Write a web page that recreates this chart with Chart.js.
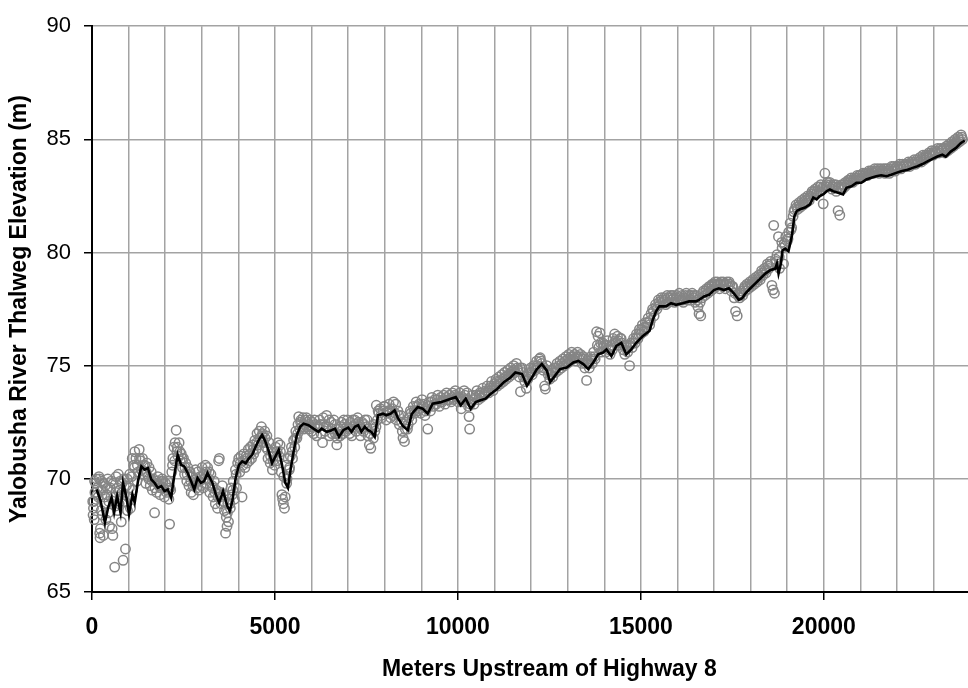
<!DOCTYPE html>
<html>
<head>
<meta charset="utf-8">
<script src="https://cdn.jsdelivr.net/npm/chart.js@4.4.1/dist/chart.umd.min.js"></script>
<style>
  html, body { margin: 0; padding: 0; background: #fff; }
</style>
</head>
<body>
<canvas id="chart" width="968" height="688"></canvas>
<script>
// Survey readings: [meters upstream of Highway 8, thalweg elevation (m)]
const surveyPoints = [
  [30, 68.4], [40, 68.7], [50, 69.0], [60, 68.2], [80, 69.4], [100, 69.8], [120, 70.0], [150, 69.6], [170, 69.2], [190, 70.1],
  [210, 67.6], [220, 67.4], [230, 67.8], [250, 68.6], [260, 69.9], [290, 69.5], [310, 67.5], [330, 68.9], [360, 69.7], [380, 68.2],
  [400, 69.3], [430, 70.0], [460, 69.0], [480, 67.9], [500, 69.6], [530, 69.9], [550, 67.8], [570, 67.5], [600, 69.2], [620, 66.1],
  [640, 68.8], [660, 70.1], [690, 69.6], [720, 70.2], [740, 68.9], [770, 69.9], [800, 68.1], [830, 69.4], [850, 66.4], [870, 70.0],
  [900, 69.0], [915, 66.9], [940, 69.7], [970, 68.6], [990, 69.2],
  [20, 69.0], [70, 69.9], [140, 69.3], [200, 70.0], [240, 69.5], [280, 68.4], [320, 69.8], [350, 69.2], [420, 69.6], [450, 68.5],
  [520, 69.2], [580, 69.8], [650, 69.4], [700, 68.6], [760, 69.5], [820, 69.8], [880, 69.3], [960, 70.0],
  [1020, 69.6], [1050, 68.7], [1080, 70.1], [1110, 69.5], [1140, 70.6], [1170, 71.2], [1200, 70.9], [1230, 69.9], [1260, 70.3], [1290, 71.3],
  [1320, 70.8], [1350, 70.4], [1380, 70.9], [1410, 70.2], [1440, 70.6], [1470, 69.8], [1500, 70.7], [1530, 70.1], [1560, 70.5], [1590, 69.7],
  [1620, 70.3], [1650, 69.5], [1680, 70.0], [1710, 68.5], [1740, 69.9], [1770, 69.4], [1800, 70.1], [1830, 69.7], [1860, 69.3], [1890, 69.9],
  [1920, 70.0], [1950, 69.6], [1980, 69.2], [2010, 69.8], [2040, 69.4],
  [1030, 70.2], [1100, 70.9], [1160, 70.5], [1240, 70.6], [1300, 70.9], [1400, 70.6], [1480, 70.3], [1550, 70.0], [1640, 69.9], [1720, 69.6],
  [1790, 69.8], [1870, 69.6], [1940, 69.9],
  [2070, 69.9], [2100, 69.1], [2120, 68.0], [2150, 69.5], [2180, 70.3], [2210, 70.9], [2240, 71.4], [2270, 71.6], [2300, 72.15], [2320, 71.2],
  [2350, 71.0], [2380, 71.6], [2410, 70.8], [2440, 71.1], [2470, 70.5], [2500, 70.9], [2530, 70.2], [2560, 70.7], [2590, 69.9], [2620, 70.5],
  [2650, 69.7], [2680, 70.3], [2710, 69.4], [2740, 70.1], [2770, 69.3], [2800, 69.8], [2830, 70.4], [2860, 69.6], [2890, 70.3], [2920, 69.5],
  [2950, 70.1], [2980, 69.7],
  [2060, 69.5], [2130, 69.6], [2200, 70.6], [2260, 70.8], [2330, 71.4], [2400, 71.2], [2460, 70.9], [2540, 70.5], [2600, 70.2], [2700, 69.9],
  [2760, 69.7], [2850, 70.0], [2940, 69.9],
  [3010, 70.5], [3040, 69.6], [3070, 70.2], [3100, 70.6], [3130, 69.8], [3160, 70.5], [3190, 70.0], [3220, 69.4], [3250, 70.2], [3280, 69.7],
  [3310, 69.2], [3340, 69.9], [3370, 68.9], [3400, 69.5], [3430, 68.7], [3460, 70.8], [3480, 70.9], [3500, 69.2], [3530, 68.9], [3560, 69.7],
  [3590, 69.3], [3620, 68.6], [3650, 67.6], [3670, 68.3], [3690, 67.9], [3710, 68.9], [3730, 68.1], [3750, 69.1], [3780, 68.7], [3800, 69.6],
  [3830, 69.3], [3860, 69.9], [3890, 69.1], [3920, 70.4], [3950, 69.6], [3980, 70.7],
  [3050, 70.0], [3120, 70.3], [3200, 70.3], [3300, 69.6], [3360, 69.4], [3440, 69.2], [3520, 69.4], [3600, 69.0], [3700, 68.5], [3770, 68.9],
  [3850, 69.5], [3940, 70.2],
  [4010, 70.9], [4040, 70.3], [4070, 71.0], [4100, 69.2], [4120, 70.6], [4150, 71.1], [4180, 70.5], [4210, 71.0], [4240, 70.7], [4270, 71.3],
  [4300, 70.8], [4330, 71.4], [4360, 70.9], [4390, 71.5], [4420, 71.1], [4450, 71.7], [4480, 71.3], [4510, 72.0], [4540, 71.5], [4570, 72.1],
  [4600, 71.8], [4630, 72.3], [4660, 72.0], [4690, 71.6], [4720, 72.1], [4750, 71.4], [4780, 71.9], [4810, 70.9], [4840, 71.6], [4870, 70.7],
  [4900, 71.2], [4930, 70.4], [4960, 71.0], [4990, 70.6],
  [4050, 70.7], [4130, 70.8], [4230, 70.9], [4320, 71.1], [4410, 71.3], [4500, 71.6], [4580, 71.8], [4650, 71.9], [4730, 71.8], [4800, 71.3],
  [4880, 71.0], [4950, 70.8],
  [5020, 71.4], [5050, 70.8], [5080, 71.6], [5110, 71.0], [5140, 71.5], [5170, 70.3], [5190, 69.3], [5210, 69.1], [5230, 68.9], [5260, 68.7],
  [5280, 69.2], [5300, 70.6], [5330, 70.0], [5360, 70.9], [5390, 70.4], [5420, 71.0], [5450, 71.4], [5480, 70.9], [5510, 71.7], [5540, 71.4],
  [5570, 72.1], [5600, 71.8], [5630, 72.4], [5650, 72.75], [5680, 72.2], [5710, 72.6], [5740, 72.3], [5770, 72.7], [5800, 72.4], [5830, 72.6],
  [5860, 72.3], [5890, 72.5], [5920, 72.2], [5950, 72.6], [5980, 72.3],
  [5060, 71.2], [5150, 71.2], [5240, 70.1], [5320, 69.8], [5400, 70.5], [5470, 71.2], [5560, 71.8],
  [5620, 72.0], [5700, 72.5], [5780, 72.2], [5860, 72.7], [5940, 72.4], [6000, 72.1], [6080, 72.6], [6160, 72.3], [6240, 72.4], [6320, 72.7],
  [6400, 72.3], [6480, 72.6], [6560, 72.0], [6640, 72.4], [6720, 72.0], [6800, 72.3], [6880, 72.6], [6960, 72.3], [7040, 72.0], [7120, 72.6],
  [7200, 72.4], [7280, 72.5], [7360, 72.2], [7440, 72.4], [7520, 72.6], [7600, 72.0], [7700, 72.4], [7760, 72.3], [7820, 73.0], [7900, 72.8],
  [7980, 73.2],
  [6020, 72.5], [6060, 72.0], [6100, 72.4], [6140, 71.9], [6180, 72.3], [6220, 72.6], [6260, 72.0], [6300, 71.6], [6330, 72.4], [6370, 72.1],
  [6410, 72.8], [6450, 72.3], [6490, 71.9], [6530, 72.5], [6570, 72.2], [6610, 72.6], [6650, 72.0], [6690, 71.5], [6700, 71.8], [6740, 72.2],
  [6780, 71.9], [6820, 72.5], [6860, 72.0], [6900, 72.4], [6940, 72.1], [6980, 72.6], [7020, 72.2], [7060, 72.5], [7100, 71.9], [7140, 72.3],
  [7180, 72.6], [7220, 72.1], [7260, 72.7], [7300, 72.3], [7340, 71.9], [7380, 72.5], [7420, 72.1], [7460, 72.6], [7500, 72.3], [7540, 71.9],
  [7580, 71.5], [7620, 71.35], [7650, 72.2], [7690, 71.8], [7730, 72.1], [7770, 73.25], [7800, 72.6], [7840, 72.9], [7880, 73.1], [7920, 72.7],
  [7960, 73.0],
  [8000, 73.2], [8040, 72.6], [8080, 73.0], [8120, 73.3], [8160, 72.7], [8200, 73.1], [8240, 73.4], [8280, 72.9], [8320, 72.6], [8360, 73.0],
  [8400, 72.4], [8440, 72.8], [8480, 72.1], [8500, 71.8], [8540, 71.65], [8580, 72.5], [8620, 72.2], [8660, 72.7], [8700, 73.0], [8740, 72.6],
  [8780, 73.2], [8820, 72.9], [8860, 73.4], [8900, 73.0], [8940, 73.3], [8980, 72.9], [9020, 73.5], [9060, 73.2], [9100, 72.8], [9140, 73.1],
  [9175, 72.2], [9210, 73.4], [9250, 73.0], [9290, 73.6], [9330, 73.2], [9370, 73.5], [9410, 73.3], [9450, 73.7], [9490, 73.2], [9530, 73.6],
  [9570, 73.4], [9610, 73.7], [9650, 73.3], [9690, 73.8], [9730, 73.5], [9770, 73.7], [9810, 73.4], [9850, 73.8], [9890, 73.5], [9930, 73.9],
  [9970, 73.6],
  [8060, 72.9], [8140, 73.0], [8220, 72.8], [8300, 73.3], [8380, 72.8], [8460, 72.5], [8560, 72.2], [8640, 72.4], [8720, 72.9], [8800, 73.0],
  [8880, 73.2], [8960, 73.1], [9040, 73.3], [9120, 73.0], [9200, 73.2], [9280, 73.4], [9360, 73.3], [9440, 73.5], [9520, 73.4], [9600, 73.5],
  [9680, 73.6], [9760, 73.5], [9840, 73.6], [9920, 73.7],
  [10010, 73.4], [10050, 73.8], [10090, 73.1], [10130, 73.6], [10170, 73.9], [10210, 73.5], [10250, 73.8], [10290, 73.2], [10305, 72.75], [10320, 72.2],
  [10360, 73.4], [10400, 73.7], [10440, 73.3], [10480, 73.6], [10520, 73.9], [10560, 73.5], [10600, 73.8], [10640, 73.6], [10680, 74.0], [10720, 73.7],
  [10760, 73.9], [10800, 74.1], [10840, 73.8], [10880, 74.0], [10920, 74.3], [10960, 73.9], [11000, 74.2], [11040, 74.4], [11080, 74.1], [11120, 74.5],
  [11160, 74.2], [11200, 74.6], [11240, 74.3], [11280, 74.7], [11320, 74.4], [11360, 74.8], [11400, 74.5], [11440, 74.9], [11480, 74.6], [11520, 75.0],
  [11560, 74.7], [11600, 75.1], [11640, 74.8], [11680, 74.5], [11710, 73.85], [11750, 74.9], [11790, 74.5], [11830, 74.3], [11870, 74.0], [11910, 74.4],
  [11950, 74.7],
  [10030, 73.6], [10110, 73.4], [10190, 73.7], [10270, 73.5], [10340, 73.3], [10420, 73.5], [10500, 73.7], [10580, 73.7], [10660, 73.8], [10740, 73.8],
  [10820, 73.9], [10900, 74.1], [10980, 74.1], [11060, 74.3], [11140, 74.3], [11220, 74.4], [11300, 74.5], [11380, 74.6], [11460, 74.7], [11540, 74.8],
  [11620, 74.9], [11700, 74.9], [11770, 74.7], [11850, 74.5], [11930, 74.6],
  [11990, 74.9], [12030, 74.6], [12070, 75.0], [12110, 74.8], [12150, 75.2], [12190, 74.9], [12230, 75.3], [12250, 75.35], [12290, 75.1], [12330, 74.8],
  [12370, 74.1], [12390, 73.97], [12430, 75.0], [12470, 74.6], [12510, 74.4], [12550, 74.8], [12590, 74.5], [12630, 74.9], [12670, 74.7], [12710, 75.1],
  [12750, 74.8], [12790, 75.2], [12830, 74.9], [12870, 75.3], [12910, 75.0], [12950, 75.4], [12990, 75.1], [13030, 75.5], [13070, 75.2], [13110, 75.6],
  [13150, 75.3], [13190, 75.5], [13230, 75.2], [13270, 75.6], [13310, 75.3], [13350, 75.5], [13390, 75.1], [13430, 75.4], [13470, 74.9], [13516, 74.35],
  [13550, 75.2], [13590, 74.9], [13630, 75.4], [13670, 75.1], [13710, 75.6], [13750, 75.3], [13790, 76.5], [13830, 76.3], [13850, 75.8], [13880, 76.45],
  [13920, 75.6], [13960, 76.0],
  [12010, 74.7], [12090, 74.9], [12170, 75.0], [12270, 75.2], [12350, 74.9], [12450, 74.8], [12530, 74.6], [12610, 74.7], [12690, 74.9], [12770, 75.0],
  [12850, 75.1], [12930, 75.2], [13010, 75.3], [13090, 75.4], [13170, 75.4], [13250, 75.4], [13330, 75.4], [13410, 75.3], [13490, 75.1], [13570, 75.1],
  [13650, 75.3], [13730, 75.4], [13810, 75.9], [13900, 76.0], [13980, 75.8],
  [14000, 75.9], [14040, 75.6], [14080, 76.1], [14120, 75.8], [14160, 75.5], [14200, 75.9], [14240, 76.2], [14284, 76.4], [14320, 76.0], [14360, 76.3],
  [14400, 75.9], [14440, 76.2], [14480, 76.0], [14520, 75.7], [14560, 75.5], [14600, 75.9], [14640, 75.6], [14691, 75.0], [14720, 76.0], [14760, 75.8],
  [14800, 76.2], [14840, 76.0], [14880, 76.4], [14920, 76.2], [14960, 76.6], [15000, 76.4], [15040, 76.8], [15080, 76.5], [15120, 76.9], [15160, 76.7],
  [15200, 77.1], [15240, 76.8], [15280, 77.3], [15320, 77.5], [15360, 77.2], [15400, 77.7], [15440, 77.5], [15480, 77.9], [15520, 77.7], [15560, 78.0],
  [15600, 77.8], [15640, 78.0], [15680, 77.7], [15720, 78.1], [15760, 77.8], [15800, 78.0], [15840, 77.9], [15880, 78.1], [15920, 77.8], [15960, 78.0],
  [16000, 77.9], [16048, 78.2],
  [14060, 75.9], [14140, 75.7], [14220, 75.7], [14300, 76.1], [14380, 76.1], [14460, 76.2], [14540, 75.9], [14620, 75.8], [14700, 75.9], [14780, 76.0],
  [14860, 76.2], [14940, 76.4], [15020, 76.6], [15100, 76.7], [15180, 76.9], [15260, 77.0], [15340, 77.4], [15420, 77.6], [15500, 77.8], [15580, 77.9],
  [15660, 77.9], [15740, 78.0], [15820, 78.1], [15900, 78.0], [15980, 78.1],
  [16080, 77.9], [16120, 78.1], [16160, 77.8], [16200, 78.0], [16240, 78.2], [16280, 77.9], [16320, 78.1], [16360, 77.9], [16400, 78.2], [16440, 78.0],
  [16480, 77.8], [16520, 78.1], [16560, 77.6], [16590, 77.3], [16636, 77.2], [16670, 78.0], [16710, 78.3], [16750, 78.1], [16790, 78.4], [16830, 78.2],
  [16870, 78.5], [16910, 78.3], [16950, 78.6], [16990, 78.4], [17030, 78.7], [17070, 78.5], [17110, 78.6], [17150, 78.4], [17190, 78.7], [17230, 78.5],
  [17270, 78.6], [17310, 78.4], [17350, 78.7], [17390, 78.5], [17430, 78.6], [17470, 78.3], [17510, 78.5], [17550, 78.0], [17587, 77.4], [17632, 77.2],
  [17660, 78.1], [17700, 78.0], [17740, 78.3], [17780, 78.1], [17820, 78.4], [17860, 78.3], [17900, 78.6], [17940, 78.4], [17980, 78.7],
  [16060, 78.0], [16140, 77.9], [16220, 78.1], [16300, 78.0], [16380, 78.1], [16460, 78.1], [16540, 77.9], [16620, 77.8], [16690, 78.2], [16770, 78.3],
  [16850, 78.4], [16930, 78.5], [17010, 78.6], [17090, 78.7], [17170, 78.6], [17250, 78.7], [17330, 78.6], [17410, 78.7], [17490, 78.5], [17570, 78.2],
  [17680, 78.2], [17760, 78.2], [17840, 78.5], [17920, 78.5], [18000, 78.6],
  [18020, 78.5], [18060, 78.8], [18100, 78.6], [18140, 78.9], [18180, 78.7], [18220, 79.0], [18260, 78.8], [18300, 79.2], [18340, 79.0], [18380, 79.3],
  [18420, 79.1], [18460, 79.5], [18500, 79.3], [18540, 79.6], [18580, 78.55], [18610, 78.35], [18630, 81.2], [18650, 78.2], [18680, 79.7], [18720, 79.9],
  [18760, 80.7], [18790, 79.3], [18850, 80.45], [18898, 79.5], [18920, 80.4], [18960, 80.7], [19000, 80.5], [19040, 80.9], [19080, 81.3], [19120, 81.1],
  [19160, 81.6], [19200, 81.9], [19240, 82.1], [19280, 81.9], [19320, 82.2], [19360, 82.0], [19400, 82.3], [19440, 82.1], [19480, 82.4], [19520, 82.2],
  [19560, 82.5], [19600, 82.3],
  [18080, 78.7], [18160, 78.8], [18240, 78.9], [18320, 79.1], [18400, 79.2], [18480, 79.4], [18560, 79.5], [18700, 79.6], [18780, 79.8], [18860, 80.2],
  [18940, 80.3], [19020, 80.6], [19100, 81.0], [19180, 81.8], [19260, 82.0], [19340, 82.1], [19420, 82.2], [19500, 82.3], [19580, 82.4],
  [19640, 82.5], [19680, 82.7], [19720, 82.6], [19760, 82.8], [19800, 82.6], [19840, 82.9], [19880, 82.7], [19920, 83.0], [19960, 82.8], [19983, 82.15],
  [20029, 83.5], [20060, 82.9], [20100, 83.1], [20140, 82.9], [20180, 83.0], [20220, 82.8], [20260, 83.0], [20300, 82.9], [20340, 82.7], [20390, 81.85],
  [20436, 81.65], [20470, 82.9], [20510, 82.8], [20550, 83.0], [20590, 83.1], [20630, 83.0], [20670, 83.2], [20710, 83.1], [20750, 83.3], [20790, 83.1],
  [20830, 83.3], [20870, 83.2], [20910, 83.4], [20950, 83.3], [20990, 83.4], [21030, 83.3], [21070, 83.5], [21110, 83.4], [21150, 83.5], [21190, 83.4],
  [21230, 83.6], [21270, 83.5], [21310, 83.6], [21350, 83.5], [21390, 83.7], [21430, 83.6], [21470, 83.7], [21510, 83.5], [21550, 83.7], [21590, 83.6],
  [19660, 82.6], [19740, 82.7], [19820, 82.7], [19900, 82.9], [19980, 82.9], [20080, 83.0], [20160, 83.1], [20240, 82.9], [20320, 83.0], [20400, 82.9],
  [20490, 83.0], [20570, 82.9], [20650, 83.1], [20730, 83.2], [20810, 83.2], [20890, 83.3], [20970, 83.4], [21050, 83.4], [21130, 83.5], [21210, 83.5],
  [21290, 83.6], [21370, 83.6], [21450, 83.6], [21530, 83.6],
  [21630, 83.7], [21670, 83.5], [21710, 83.6], [21750, 83.7], [21790, 83.5], [21830, 83.7], [21870, 83.6], [21910, 83.8], [21950, 83.6], [21990, 83.8],
  [22030, 83.7], [22070, 83.9], [22110, 83.7], [22150, 83.9], [22190, 83.8], [22230, 83.9], [22270, 83.8], [22310, 84.0], [22350, 83.8], [22390, 84.0],
  [22430, 83.9], [22470, 84.1], [22510, 83.9], [22550, 84.1], [22590, 84.0], [22630, 84.2], [22670, 84.0], [22710, 84.3], [22750, 84.1], [22790, 84.3],
  [22830, 84.2], [22870, 84.4], [22910, 84.3], [22950, 84.5], [22990, 84.3], [23030, 84.5], [23070, 84.4], [23110, 84.6], [23150, 84.4], [23190, 84.6],
  [23230, 84.5], [23270, 84.6], [23310, 84.4], [23350, 84.7], [23390, 84.5], [23430, 84.8], [23470, 84.6], [23510, 84.9], [23550, 84.7], [23590, 85.0],
  [23630, 84.8], [23670, 85.1], [23710, 84.9], [23750, 85.2], [23790, 85.0],
  [21610, 83.6], [21690, 83.7], [21770, 83.6], [21850, 83.8], [21930, 83.7], [22010, 83.8], [22090, 83.8], [22170, 83.8], [22250, 83.9], [22330, 83.9],
  [22410, 84.0], [22490, 84.0], [22570, 84.0], [22650, 84.1], [22730, 84.2], [22810, 84.2], [22890, 84.3], [22970, 84.4], [23050, 84.4], [23130, 84.5],
  [23210, 84.5], [23290, 84.6], [23370, 84.6], [23450, 84.7], [23530, 84.8], [23610, 84.9], [23690, 85.0], [23770, 85.1]
];

// Smoothed thalweg profile (black line): [meters, elevation]
const profilePoints = [
  [128, 69.53], [236, 69.02], [353, 68.07], [442, 68.73], [535, 69.17], [605, 68.51], [687, 69.24], [779, 68.51], [849, 69.82], [942, 69.17],
  [1012, 68.44], [1105, 69.31], [1167, 68.95], [1257, 69.90], [1349, 70.55], [1438, 70.41], [1528, 70.48], [1620, 69.97], [1710, 69.82], [1799, 69.60],
  [1892, 69.68], [1981, 69.46], [2071, 69.53], [2163, 69.17], [2253, 70.19], [2342, 71.06], [2434, 70.62], [2524, 70.55], [2614, 70.26], [2706, 69.90],
  [2795, 69.53], [2885, 70.04], [2977, 69.82], [3067, 69.90], [3156, 70.26], [3292, 69.82], [3384, 69.31], [3474, 68.95], [3582, 69.46], [3699, 68.80],
  [3764, 68.58], [3835, 69.02], [3927, 70.04], [4017, 70.62], [4106, 70.77], [4199, 70.69], [4288, 70.91], [4378, 71.06], [4470, 71.42], [4560, 71.72],
  [4649, 71.94], [4741, 71.64], [4831, 71.21], [4921, 70.69], [5013, 70.99], [5102, 71.28], [5192, 70.62], [5284, 69.82], [5355, 69.60], [5420, 70.33],
  [5509, 71.21], [5599, 71.94], [5691, 72.30], [5781, 72.44], [5917, 72.37], [6052, 72.22], [6188, 72.08], [6278, 72.22], [6413, 72.08], [6549, 72.15],
  [6641, 72.22], [6750, 71.86], [6866, 72.15], [7002, 72.26], [7092, 72.08], [7184, 72.30], [7274, 72.37], [7363, 72.08], [7455, 72.30], [7545, 72.15],
  [7635, 72.08], [7727, 71.86], [7816, 72.81], [7952, 72.88], [8042, 72.81], [8161, 72.88], [8270, 73.03], [8359, 72.69], [8495, 72.34], [8631, 72.15],
  [8739, 72.87], [8902, 73.17], [9038, 73.10], [9173, 72.88], [9309, 73.32], [9534, 73.39], [9806, 73.54], [9941, 73.61], [10077, 73.25], [10213, 73.54],
  [10349, 73.10], [10484, 73.39], [10620, 73.47], [10756, 73.54], [10891, 73.75], [11073, 73.97], [11255, 74.27], [11434, 74.48], [11570, 74.70], [11752, 74.63],
  [11887, 74.12], [12023, 74.48], [12158, 74.85], [12294, 75.07], [12430, 74.78], [12520, 74.27], [12655, 74.56], [12791, 74.85], [12973, 74.92], [13155, 75.14],
  [13290, 75.21], [13426, 75.07], [13562, 74.85], [13698, 75.14], [13833, 75.50], [13969, 75.58], [14059, 75.72], [14194, 75.43], [14330, 75.87], [14466, 76.01],
  [14601, 75.50], [14737, 75.72], [14873, 76.01], [15055, 76.31], [15234, 76.53], [15326, 77.03], [15415, 77.40], [15505, 77.62], [15687, 77.62], [15823, 77.76],
  [15958, 77.69], [16140, 77.76], [16319, 77.84], [16501, 77.84], [16591, 77.91], [16726, 78.06], [16862, 78.13], [16998, 78.34], [17134, 78.42], [17269, 78.34],
  [17405, 78.42], [17541, 78.20], [17676, 77.91], [17769, 77.98], [17858, 78.20], [17994, 78.42], [18130, 78.64], [18265, 78.85], [18401, 79.07], [18537, 79.22],
  [18672, 79.29], [18718, 79.51], [18762, 79.07], [18827, 79.51], [18870, 80.09], [18944, 80.17], [19033, 80.06], [19126, 80.73], [19196, 81.61], [19261, 81.84],
  [19351, 81.91], [19487, 81.99], [19622, 82.13], [19712, 82.43], [19804, 82.35], [19894, 82.50], [19983, 82.57], [20075, 82.71], [20165, 82.79], [20255, 82.71],
  [20390, 82.64], [20526, 82.57], [20618, 82.86], [20754, 82.93], [20890, 83.08], [21025, 83.08], [21161, 83.23], [21297, 83.30], [21432, 83.37], [21568, 83.41],
  [21704, 83.37], [21840, 83.44], [21975, 83.52], [22111, 83.59], [22290, 83.66], [22426, 83.74], [22562, 83.81], [22697, 83.91], [22833, 84.03], [22969, 84.14],
  [23104, 84.24], [23240, 84.32], [23332, 84.24], [23468, 84.46], [23604, 84.61], [23739, 84.83], [23850, 84.95]
];

// The original plot runs to 25000 m and is cut off by the picture's right edge.
const xMin = 0;
const xMax = 25000;
const plotOverhang = 45; // px of plot area beyond the right edge of the canvas
// vertical grid every 1000 m, labels every 5000 m
const xGridTicks = [0, 1000, 2000, 3000, 4000, 5000, 6000, 7000, 8000, 9000, 10000, 11000, 12000,
  13000, 14000, 15000, 16000, 17000, 18000, 19000, 20000, 21000, 22000, 23000, 24000, 25000];
const xLabelStep = 5000;
const yMin = 65;
const yMax = 90;
const yStep = 5;

const gridGray = "#a3a3a3";
const fontFamily = "Arial, 'Liberation Sans', sans-serif";

const toXY = (pts) => pts.map(([x, y]) => ({ x, y }));
const isLabelled = (v) => v % xLabelStep === 0;

// stretch the plot area past the canvas edge so the chart appears cropped
const overhangPlugin = {
  id: "overhang",
  afterLayout(chart) {
    const xs = chart.scales.x;
    const area = chart.chartArea;
    const right = area.right + plotOverhang;
    xs.right = right;
    xs.width = right - xs.left;
    xs.configure();
    area.right = right;
    area.width = right - area.left;
  },
};

new Chart(document.getElementById("chart"), {
  type: "scatter",
  plugins: [overhangPlugin],
  data: {
    datasets: [
      {
        label: "Thalweg profile",
        data: toXY(profilePoints),
        showLine: true,
        borderColor: "#000",
        borderWidth: 2.6,
        pointRadius: 0,
        tension: 0,
        order: 0,
        clip: false,
      },
      {
        label: "Survey points",
        data: toXY(surveyPoints),
        pointRadius: 4.7,
        pointBorderWidth: 1.5,
        pointBorderColor: "#858585",
        pointBackgroundColor: "rgba(0,0,0,0)",
        order: 1,
        clip: false,
      },
    ],
  },
  options: {
    responsive: false,
    animation: false,
    devicePixelRatio: 1,
    layout: { padding: { top: 20, right: 0, bottom: 0, left: 0 } },
    plugins: { legend: { display: false }, tooltip: { enabled: false } },
    scales: {
      x: {
        type: "linear",
        position: "bottom",
        min: xMin,
        max: xMax,
        afterBuildTicks: (scale) => {
          scale.ticks = xGridTicks.map((value) => ({ value }));
        },
        afterFit: (scale) => {
          scale.height = 96;
          scale.paddingLeft = 0;
          scale.paddingRight = 0;
        },
        ticks: {
          autoSkip: false,
          maxRotation: 0,
          padding: 14,
          color: "#000",
          font: { family: fontFamily, size: 23, weight: "bold" },
          callback: (v) => (isLabelled(v) ? String(v) : ""),
        },
        grid: {
          color: gridGray,
          lineWidth: 1.5,
          tickLength: 8,
          tickWidth: 1.5,
          tickColor: (ctx) => (ctx.tick && isLabelled(ctx.tick.value) ? "#000" : "rgba(0,0,0,0)"),
        },
        border: { color: "#000", width: 2 },
        title: {
          display: true,
          text: "Meters Upstream of Highway 8",
          color: "#000",
          font: { family: fontFamily, size: 23, weight: "bold" },
          padding: { top: 0, bottom: 5 },
        },
      },
      y: {
        min: yMin,
        max: yMax,
        afterFit: (scale) => { scale.width = 92; },
        ticks: {
          stepSize: yStep,
          padding: 13,
          color: "#000",
          font: { family: fontFamily, size: 22 },
        },
        grid: {
          color: (ctx) => (ctx.tick && ctx.tick.value === yMin ? "rgba(0,0,0,0)" : gridGray),
          lineWidth: 1.5,
          tickLength: 8,
          tickWidth: 1.5,
          tickColor: "#000",
        },
        border: { color: "#000", width: 2 },
        title: {
          display: true,
          text: "Yalobusha River Thalweg Elevation (m)",
          color: "#000",
          font: { family: fontFamily, size: 23, weight: "bold" },
          padding: { top: 6, bottom: 0 },
        },
      },
    },
  },
});
</script>
</body>
</html>
